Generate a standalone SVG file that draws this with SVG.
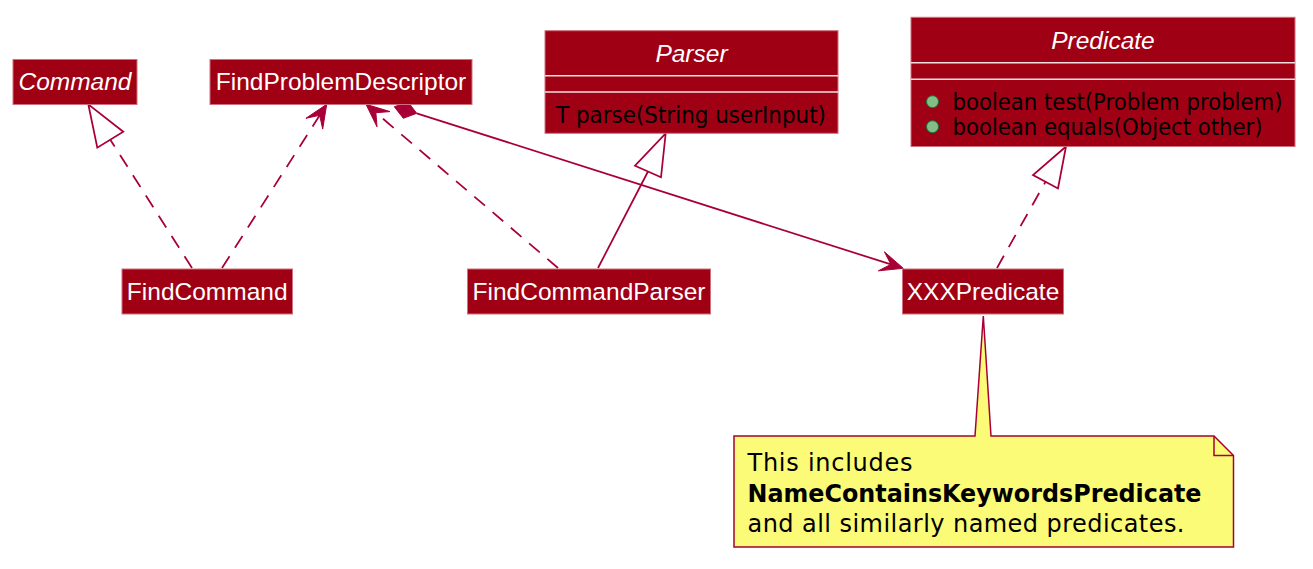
<svg xmlns="http://www.w3.org/2000/svg" width="1313" height="569" viewBox="0 0 1313 569">
<style>
.box{fill:#A00014;stroke:#D0707E;stroke-width:1}
.sep{stroke:#F4E0E2;stroke-width:1.5}
.name{font-family:"Liberation Sans",Arial,sans-serif;font-size:24.5px;fill:#FFFFFF}
.it{font-style:italic}
.mem{font-family:"DejaVu Sans","Noto Sans",sans-serif;font-size:23px;fill:#000000}
.note{font-family:"DejaVu Sans","Noto Sans",sans-serif;font-size:24px;fill:#000000}
.ln{fill:none;stroke:#A80036;stroke-width:1.75}
.dash{stroke-dasharray:14,10}
.tri{fill:#FFFFFF;stroke:#A80036;stroke-width:1.75}
.head{fill:#A80036;stroke:#A80036;stroke-width:1}
.dot{fill:#84BE84;stroke:#038048;stroke-width:1}
</style>
<rect width="1313" height="569" fill="#FFFFFF"/>

<g id="connectors">
  <line class="ln dash" x1="192" y1="268" x2="110.3" y2="139.7"/>
  <polygon class="tri" points="88.3,104.3 97.3,147.7 123.3,131.7"/>
  <line class="ln dash" x1="222" y1="268" x2="319.7" y2="115.3"/>
  <polygon class="head" points="326.7,104.3 305.9,118.3 319.7,115.3 322.7,129.1"/>
  <line class="ln dash" x1="558" y1="268" x2="375.9" y2="112.7"/>
  <polygon class="head" points="366,104.3 390,111.6 375.9,112.7 377,126.8"/>
  <polygon class="head" points="394.3,106.7 408.3,102.3 416.7,113.3 403.3,118.3"/>
  <line class="ln" x1="416.7" y1="113.3" x2="890.9" y2="264.4"/>
  <polygon class="head" points="903.3,268.3 884.4,251.8 890.9,264.4 878.4,270.8"/>
  <line class="ln" x1="598" y1="268" x2="648" y2="171.5"/>
  <polygon class="tri" points="665.7,133.3 635,165.7 661,177.3"/>
  <line class="ln dash" x1="997" y1="268" x2="1045.5" y2="181.8"/>
  <polygon class="tri" points="1066,146.5 1033,175 1058,188.5"/>
</g>

<g id="Command">
  <rect class="box" x="13" y="59.5" width="124" height="45"/>
  <text class="name it" x="75" y="90" text-anchor="middle">Command</text>
</g>

<g id="FindProblemDescriptor">
  <rect class="box" x="210" y="59.5" width="262" height="45"/>
  <text class="name" x="341" y="90" text-anchor="middle">FindProblemDescriptor</text>
</g>

<g id="Parser">
  <rect class="box" x="545" y="30.7" width="293" height="102.6"/>
  <line class="sep" x1="545" y1="75.7" x2="838" y2="75.7"/>
  <line class="sep" x1="545" y1="92" x2="838" y2="92"/>
  <text class="name it" x="691.5" y="62" text-anchor="middle">Parser</text>
  <text class="mem" x="556" y="122.5" textLength="270" lengthAdjust="spacingAndGlyphs">T parse(String userInput)</text>
</g>

<g id="Predicate">
  <rect class="box" x="911" y="17.3" width="384" height="129.2"/>
  <line class="sep" x1="911" y1="62.7" x2="1295" y2="62.7"/>
  <line class="sep" x1="911" y1="79.3" x2="1295" y2="79.3"/>
  <text class="name it" x="1103" y="48.5" text-anchor="middle">Predicate</text>
  <circle class="dot" cx="932.5" cy="101.7" r="6"/>
  <text class="mem" x="952.5" y="110" textLength="330" lengthAdjust="spacingAndGlyphs">boolean test(Problem problem)</text>
  <circle class="dot" cx="932.5" cy="126.7" r="6"/>
  <text class="mem" x="952.5" y="135" textLength="310" lengthAdjust="spacingAndGlyphs">boolean equals(Object other)</text>
</g>

<g id="FindCommand">
  <rect class="box" x="122" y="269" width="170.5" height="45"/>
  <text class="name" x="207.2" y="300" text-anchor="middle">FindCommand</text>
</g>

<g id="FindCommandParser">
  <rect class="box" x="467.5" y="269" width="243" height="45"/>
  <text class="name" x="589" y="300" text-anchor="middle">FindCommandParser</text>
</g>

<g id="XXXPredicate">
  <rect class="box" x="902.5" y="269" width="161" height="45"/>
  <text class="name" x="983" y="300" text-anchor="middle">XXXPredicate</text>
</g>

<g id="note">
  <polygon points="734,436 975,436 983.3,316 991,436 1214,436 1233.5,455.5 1233.5,547 734,547" fill="#FBFB77" stroke="#A80036" stroke-width="1.5"/>
  <polyline points="1214,436 1214,455.5 1233.5,455.5" fill="none" stroke="#A80036" stroke-width="1.5"/>
  <text class="note" x="747.5" y="471" textLength="165" lengthAdjust="spacing">This includes</text>
  <text class="note" x="747.5" y="501.5" font-weight="bold" textLength="454" lengthAdjust="spacingAndGlyphs">NameContainsKeywordsPredicate</text>
  <text class="note" x="747.5" y="532" textLength="437" lengthAdjust="spacing">and all similarly named predicates.</text>
</g>
</svg>
